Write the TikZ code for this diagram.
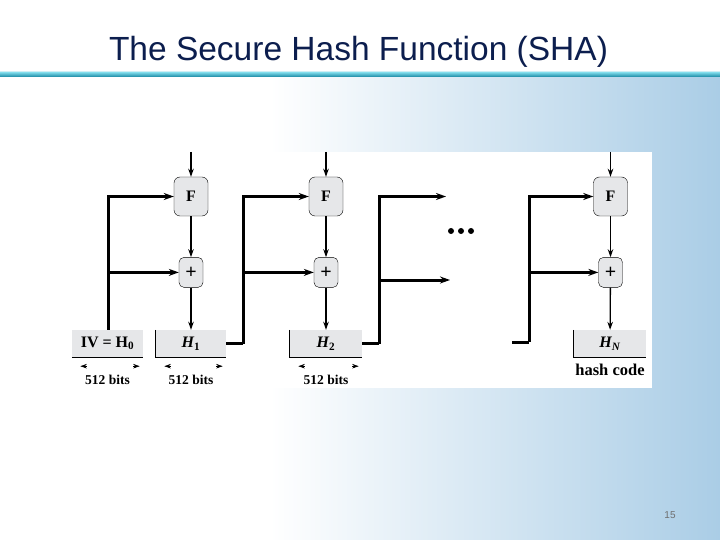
\documentclass[tikz,border=0pt]{standalone}
\usepackage{fontspec}
\setmainfont{Liberation Sans}
\newfontfamily\shafont{Liberation Serif}
\usepackage{xcolor}
\usepackage{tikz}
\usetikzlibrary{shapes,arrows.meta,positioning,calc}
\definecolor{titlenavy}{RGB}{12,30,78}
\definecolor{ruletop}{RGB}{110,205,222}
\definecolor{rulebot}{RGB}{22,135,162}
\definecolor{boxgray}{RGB}{230,231,233}
\definecolor{bgblue}{RGB}{170,205,230}
\definecolor{pagegray}{RGB}{110,110,110}

\begin{document}
\begin{tikzpicture}[x=1pt, y=-1pt, node distance=41pt,
  fbox/.style={rectangle,draw=black,fill=boxgray,rounded corners=6pt,minimum width=34pt,minimum height=39pt,inner sep=0pt,font=\shafont\bfseries\fontsize{16}{16}\selectfont},
  addbox/.style={rectangle,draw=black,fill=boxgray,rounded corners=5pt,minimum width=24pt,minimum height=30pt,inner sep=0pt,font=\shafont\bfseries\fontsize{20}{20}\selectfont},
  reg/.style={rectangle,fill=boxgray,minimum height=27pt,inner sep=0pt,font=\shafont\bfseries\fontsize{16}{16}\selectfont},
  wire/.style={draw=black,line width=3pt,-{Stealth[length=10pt,width=7pt]}},
  feed/.style={draw=black,line width=1.3pt,-{Stealth[length=8pt,width=5.5pt]}},
  dimtip/.style={draw=black,line width=0.6pt,-{Stealth[length=6.5pt,width=4.5pt]}},
  sizelabel/.style={font=\shafont\bfseries\fontsize{13.5}{13.5}\selectfont}]

  \useasboundingbox (0,0) rectangle (720,540);
  % slide background
  \fill[white] (0,0) rectangle (720,540);
  \shade[left color=white,right color=bgblue] (270,78) rectangle (720,540);
  \shade[top color=white,bottom color=ruletop] (0,70) rectangle (720,73);
  \shade[top color=ruletop,bottom color=rulebot] (0,73) rectangle (720,77);
  \node[text=titlenavy,font=\fontsize{33.5}{33.5}\selectfont,anchor=base] (title) at (358.5,61) {The Secure Hash Function (SHA)};
  \fill[white] (62,152) rectangle (652,388);

  % compression stages
  \node[fbox] (F1) at (191,196.5) {F};
  \node[fbox] (F2) at (326,196.5) {F};
  \node[fbox] (FN) at (610.5,196.5) {F};
  \node[addbox,below=of F1] (p1) {+};
  \node[addbox,below=of F2] (p2) {+};
  \node[addbox,below=of FN] (pN) {+};

  \node[reg,minimum width=71pt] (h0) at (107.5,343.5) {IV = H\textsubscript{0}};
  \node[reg,minimum width=70pt] (h1) at (191,343.5) {\itshape H\textsubscript{\upshape 1}};
  \node[reg,minimum width=72pt] (h2) at (326,343.5) {\itshape H\textsubscript{\upshape 2}};
  \node[reg,minimum width=72pt] (hN) at (610,343.5) {\itshape H\textsubscript{N}};
  \draw[line width=0.8pt] (h0.south west) -- (h0.south east);
  \foreach \r in {h1,h2,hN}
    \draw[line width=0.8pt] (\r.north west) -- (\r.south west) -- (\r.south east);

  \node[sizelabel,font=\shafont\bfseries\fontsize{16.5}{16.5}\selectfont,below=3pt of hN] (hash) {hash code};
  \foreach \r in {h0,h1,h2} {
    \draw[dimtip] ($(\r.south west)+(15,9)$) -- ++(-6.5,0);
    \draw[dimtip] ($(\r.south east)+(-10,9)$) -- ++(6.5,0);
    \node[sizelabel] (\r bits) at ($(\r.south)+(0,23)$) {512 bits};
  }

  % message block inputs
  \coordinate (in1) at (191,152);
  \coordinate (in2) at (326,152);
  \coordinate (inN) at (610.5,152);
  \draw[feed] (in1) -- (F1);
  \draw[feed] (in2) -- (F2);
  \draw[feed] (inN) -- (FN);
  \draw[feed] (F1) -- (p1);
  \draw[feed] (F2) -- (p2);
  \draw[feed] (FN) -- (pN);
  \draw[feed] (p1) -- (h1);
  \draw[feed] (p2) -- (h2);
  \draw[feed] (pN) -- (hN);

  % chaining variables
  \coordinate (j0) at (108,343.5);
  \coordinate (j1) at (243,343.5);
  \coordinate (j2) at (379,343.5);
  \coordinate (o1) at (446,196.5);
  \coordinate (o2) at (450,280);
  \coordinate (sN) at (512,342);
  \coordinate (jN) at (529,342);
  \draw[wire] (h0.north -| j0) |- (F1.west);
  \draw[wire] (j0 |- p1.west) -- (p1.west);
  \draw[wire,-] (h1.east) -- (j1);
  \draw[wire] (j1) |- (F2.west);
  \draw[wire] (j1 |- p2.west) -- (p2.west);
  \draw[wire,-] (h2.east) -- (j2);
  \draw[wire] (j2) |- (o1);
  \draw[wire] (j2 |- o2) -- (o2);
  \draw[wire,-] (sN) -- (jN);
  \draw[wire] (jN) |- (FN.west);
  \draw[wire] (jN |- pN.west) -- (pN.west);
  \foreach \x in {451,461,471}
    \fill (\x,231) circle (3pt);

  \node[text=pagegray,font=\fontsize{10}{10}\selectfont] (page) at (670,515) {15};
\end{tikzpicture}
\end{document}
